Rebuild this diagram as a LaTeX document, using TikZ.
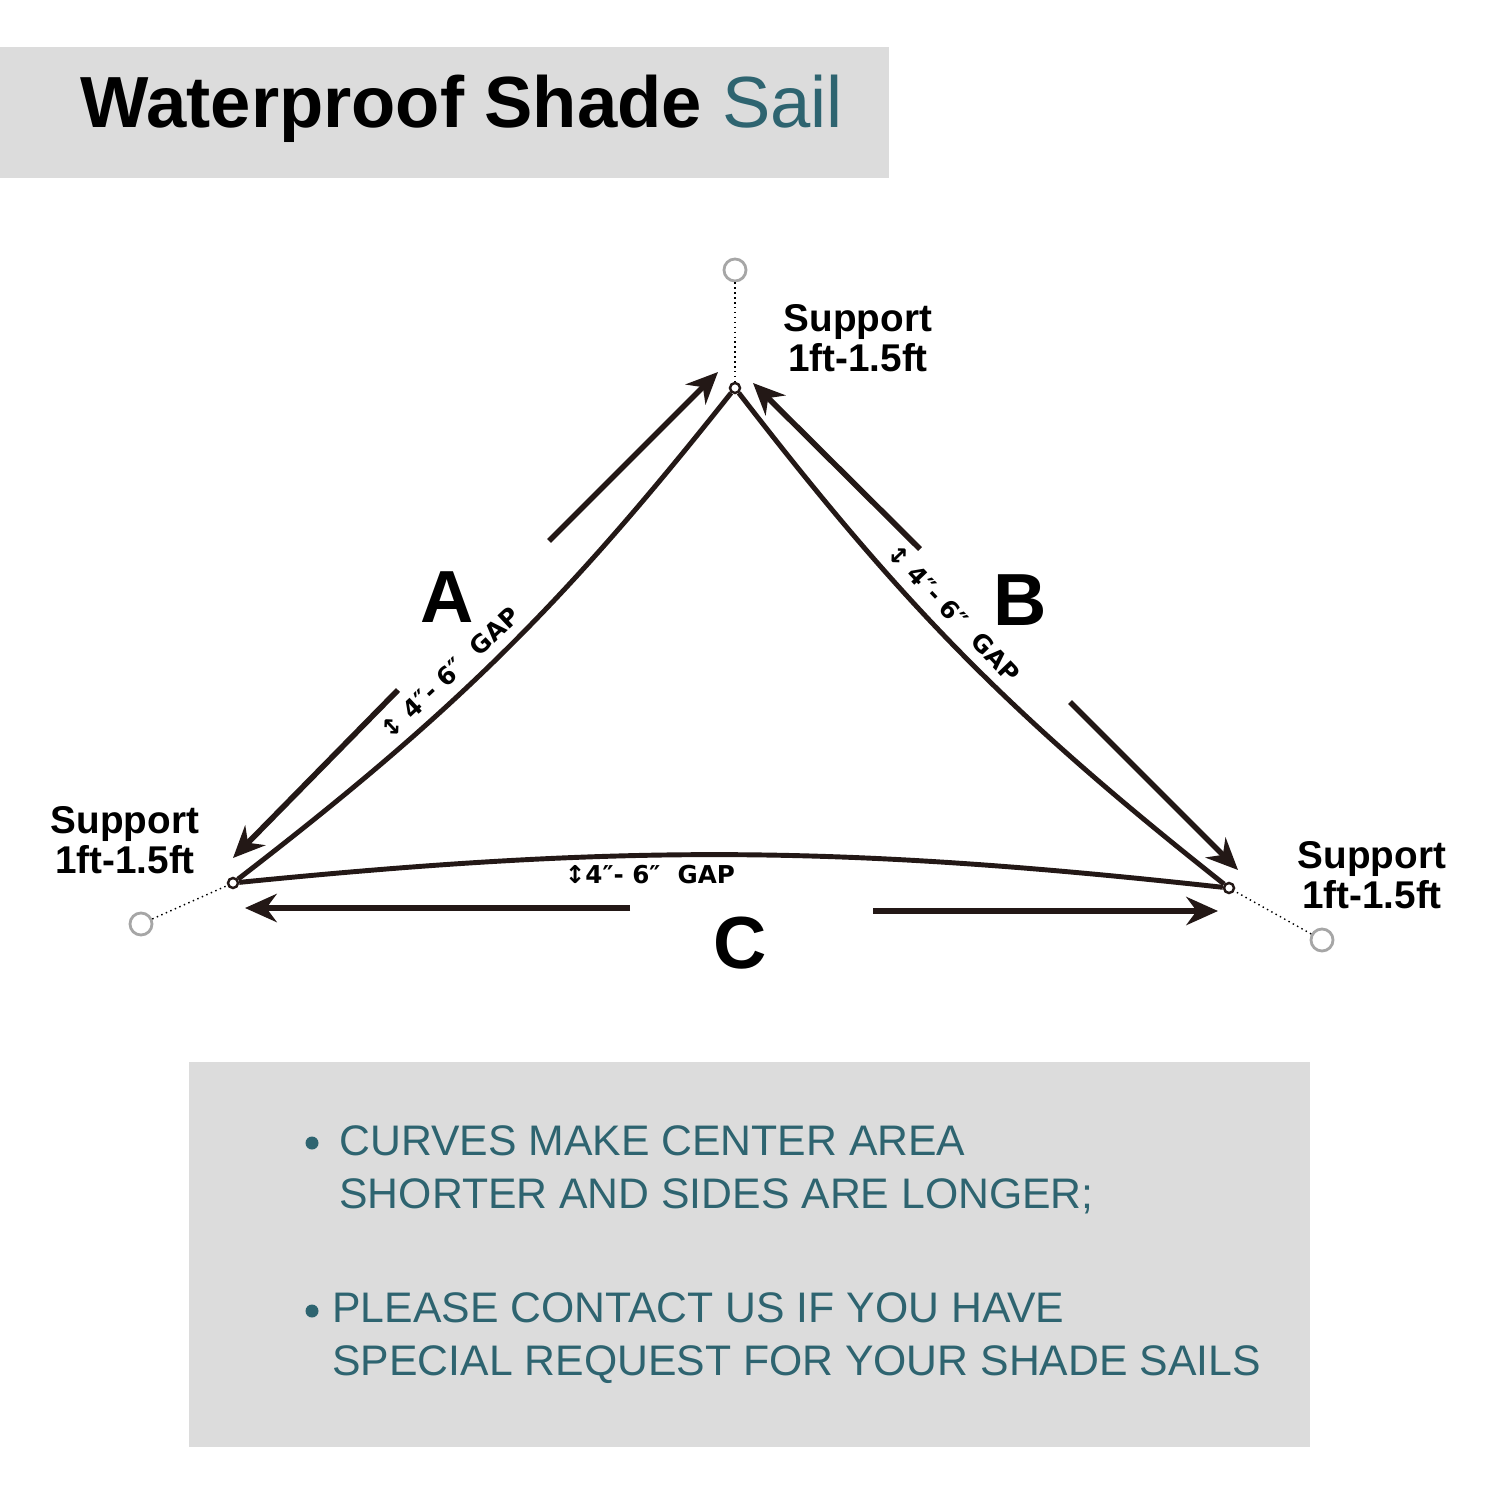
\documentclass[tikz,border=0pt]{standalone}
\usetikzlibrary{arrows.meta}
\usepackage{fontspec}
\setmainfont{Liberation Sans}
\newfontfamily\dv{DejaVu Sans}
\definecolor{teal1}{HTML}{2E6470}
\definecolor{boxg}{HTML}{DCDCDC}
\definecolor{edge}{HTML}{231816}
\begin{document}
\begin{tikzpicture}[x=0.01cm,y=-0.01cm,
  sail/.style={draw=edge,line width=1.4pt},
  dim/.style={draw=edge,line width=1.6pt,-{Stealth[length=9pt,width=8pt]}},
  ring/.style={circle,draw=gray!70,line width=0.8pt,minimum size=0.22cm,inner sep=0pt,fill=white},
  eye/.style={circle,draw=edge,line width=0.7pt,minimum size=0.1cm,inner sep=0pt,fill=white},
  sup/.style={font=\bfseries\fontsize{11}{11.5}\selectfont,align=center},
  big/.style={font=\bfseries\fontsize{21}{21}\selectfont},
  gap/.style={font=\bfseries\fontsize{8.5}{9}\selectfont,inner sep=1pt},
  note/.style={font=\fontsize{12.15}{15.2}\selectfont,text=teal1,align=left,anchor=west}]
\fill[white] (0,0) rectangle (1500,1500);
\fill[boxg] (0,47) rectangle (889,178);
\node[anchor=base west,inner sep=0pt,font=\fontsize{20.6}{21}\selectfont] (title) at (80,128) {\textbf{Waterproof Shade} \textcolor{teal1}{Sail}};
% vertices
\node[eye] (T) at (735,388) {};
\node[eye] (L) at (233,883) {};
\node[eye] (R) at (1229,888) {};
\node[ring] (rT) at (735,270) {};
\node[ring] (rL) at (141,924) {};
\node[ring] (rR) at (1322,940) {};
\draw[densely dotted,thin] (rT) -- (T);
\draw[densely dotted,thin] (rL) -- (L);
\draw[densely dotted,thin] (rR) -- (R);
% edges
\draw[sail] (L) to[bend right=7] node[pos=0.42,sloped,above=2pt,gap] {\dv\scriptsize↕\ \bfseries 4″- 6″\ \ GAP} (T);
\draw[sail] (T) to[bend right=7] node[pos=0.44,sloped,above=2pt,gap] {\dv\scriptsize↕\ \bfseries 4″- 6″\ \ GAP} (R);
\draw[sail] (L) to[bend left=6] node[pos=0.41,below=1pt,gap] {\dv\scriptsize↕\bfseries 4″- 6″\ \ GAP} (R);
% dimension arrows
\coordinate (a1) at (549,541); \coordinate (a2) at (718,372);
\coordinate (a3) at (398,690); \coordinate (a4) at (233,858);
\coordinate (b1) at (920,549); \coordinate (b2) at (753,383);
\coordinate (b3) at (1070,702); \coordinate (b4) at (1238,870);
\coordinate (c1) at (630,908); \coordinate (c2) at (245,908);
\coordinate (c3) at (873,911); \coordinate (c4) at (1218,911);
\draw[dim] (a1) -- (a2); \draw[dim] (a3) -- (a4);
\draw[dim] (b1) -- (b2); \draw[dim] (b3) -- (b4);
\draw[dim] (c1) -- (c2); \draw[dim] (c3) -- (c4);
\node[big] (A) at (447,597) {A};
\node[big] (B) at (1020,600) {B};
\node[big] (C) at (740,943) {C};
\node[sup] (sT) at (858,338) {Support\\1ft-1.5ft};
\node[sup] (sL) at (125,840) {Support\\1ft-1.5ft};
\node[sup] (sR) at (1372,875) {Support\\1ft-1.5ft};
% notes
\fill[boxg] (189,1062) rectangle (1310,1447);
\fill[teal1] (312,1143) circle (6.5);
\fill[teal1] (312,1311) circle (6.5);
\node[note] (n1) at (327,1170) {CURVES MAKE CENTER AREA\\SHORTER AND SIDES ARE LONGER;};
\node[note] (n2) at (320,1338) {PLEASE CONTACT US IF YOU HAVE\\SPECIAL REQUEST FOR YOUR SHADE SAILS};
\end{tikzpicture}
\end{document}
